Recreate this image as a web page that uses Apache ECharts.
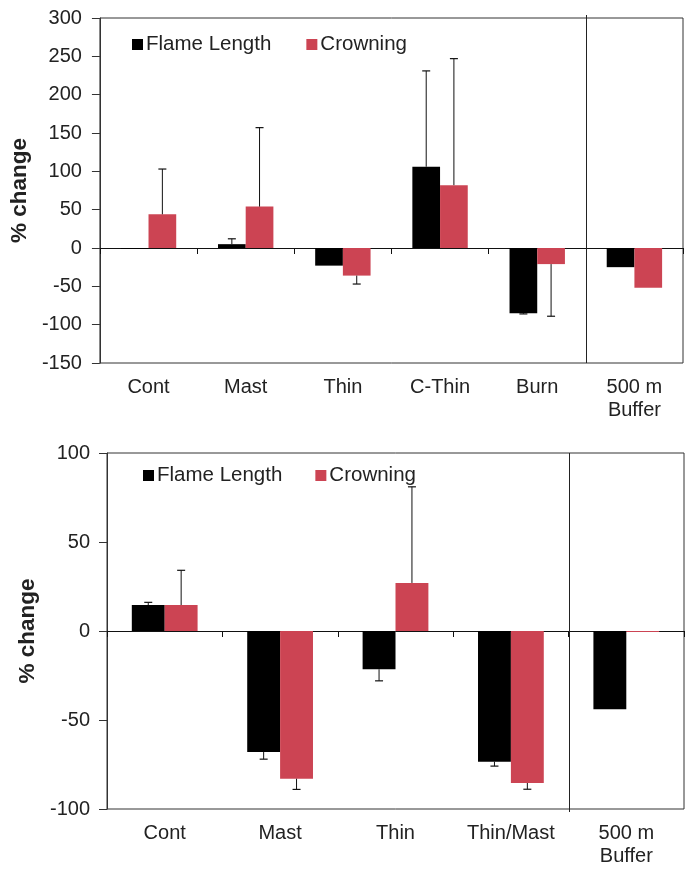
<!DOCTYPE html>
<html>
<head>
<meta charset="utf-8">
<script src="https://cdn.jsdelivr.net/npm/echarts@6/dist/echarts.min.js"></script>
<style>html,body{margin:0;padding:0;background:#fff;}#c{width:691px;height:877px;}</style>
</head>
<body>
<div id="c"></div>
<script>
// ---- Data: top panel ----
var cats1 = ['Cont', 'Mast', 'Thin', 'C-Thin', 'Burn', '500 m\nBuffer'];
var flame1 = [-1, 5, -23, 106, -85, -25];
var flameErr1 = [null, 7, null, 125, 1, null];
var crown1 = [44, 54, -36, 82, -21, -52];
var crownErr1 = [59, 103, 11, 165, 68, null];
var yTicks1 = { min: -150, max: 300, interval: 50 };

// ---- Data: bottom panel ----
var cats2 = ['Cont', 'Mast', 'Thin', 'Thin/Mast', '500 m\nBuffer'];
var flame2 = [14.6, -68, -21.5, -73.4, -44];
var flameErr2 = [1.5, 4, 6.5, 2.5, null];
var crown2 = [14.6, -83, 27, -85.4, -0.5];
var crownErr2 = [19.5, 6, 54, 3.5, null];
var yTicks2 = { min: -100, max: 100, interval: 50 };

var FONT = 'Liberation Sans';
var TXT = '#222';
var RED = '#cc4453';
var GAP = 0.43;

function errData(vals, errs) {
  var out = [];
  for (var i = 0; i < vals.length; i++) {
    if (errs[i] != null) out.push([i, vals[i], errs[i]]);
  }
  return out;
}

function errSeries(name, gridIdx, vals, errs, side) {
  return {
    type: 'custom', name: name + ' err', xAxisIndex: gridIdx * 2, yAxisIndex: gridIdx,
    silent: true, z: 5,
    data: errData(vals, errs),
    renderItem: function (params, api) {
      var i = api.value(0), v = api.value(1), e = api.value(2);
      var cw = api.size([1, 0])[0];
      var bw = cw * (1 - GAP) / 2;
      var c = api.coord([i, v]);
      var x = c[0] + side * bw / 2;
      var end = api.coord([i, v >= 0 ? v + e : v - e]);
      return {
        type: 'group', children: [
          { type: 'line', shape: { x1: x, y1: c[1], x2: x, y2: end[1] }, style: { stroke: '#111', lineWidth: 1 } },
          { type: 'line', shape: { x1: x - 4, y1: end[1], x2: x + 4, y2: end[1] }, style: { stroke: '#111', lineWidth: 1.2 } }
        ]
      };
    }
  };
}

function sepSeries(gridIdx, catIdx, yTop, yBot, extTop, extBot) {
  return {
    type: 'custom', xAxisIndex: gridIdx * 2, yAxisIndex: gridIdx, silent: true, z: 6,
    data: [[catIdx, yTop, yBot]],
    renderItem: function (params, api) {
      var cw = api.size([1, 0])[0];
      var t = api.coord([api.value(0), api.value(1)]);
      var b = api.coord([api.value(0), api.value(2)]);
      var x = Math.round(t[0] + cw / 2) + 0.5;
      return { type: 'line', shape: { x1: x, y1: t[1] - extTop, x2: x, y2: b[1] + extBot }, style: { stroke: '#222', lineWidth: 1 } };
    }
  };
}

function xAxesFor(gridIdx, cats) {
  return [
    { type: 'category', gridIndex: gridIdx, data: cats, position: 'bottom',
      axisLine: { onZero: true, lineStyle: { color: '#111', width: 1 } },
      axisTick: { show: true, length: 6, lineStyle: { color: '#111' } },
      axisLabel: { show: false }, splitLine: { show: false } },
    { type: 'category', gridIndex: gridIdx, data: cats, position: 'bottom',
      axisLine: { show: false, onZero: false }, axisTick: { show: false },
      axisLabel: { show: true, color: TXT, fontFamily: FONT, fontSize: 20, margin: 13, lineHeight: 23 },
      splitLine: { show: false } }
  ];
}

function yAxisFor(gridIdx, t, gap, margin) {
  return {
    type: 'value', gridIndex: gridIdx, min: t.min, max: t.max, interval: t.interval,
    name: '% change', nameLocation: 'middle', nameGap: gap,
    nameTextStyle: { color: TXT, fontFamily: FONT, fontSize: 22.5, fontWeight: 'bold' },
    axisLine: { show: true, lineStyle: { color: '#333' } },
    axisTick: { show: true, length: 8, lineStyle: { color: '#333' } },
    axisLabel: { color: TXT, fontFamily: FONT, fontSize: 20, margin: margin },
    splitLine: { show: false }
  };
}

function barSeries(name, gridIdx, vals, color) {
  return {
    type: 'bar', name: name, xAxisIndex: gridIdx * 2, yAxisIndex: gridIdx,
    data: vals, barGap: '0%', barCategoryGap: (GAP * 100) + '%',
    itemStyle: { color: color }, silent: true, z: 3
  };
}

var legendText = { color: TXT, fontFamily: FONT, fontSize: 20.5, padding: [0, 0, 0, -2] };
var chart = echarts.init(document.getElementById('c'), null, { renderer: 'canvas' });
chart.setOption({
  backgroundColor: '#fff',
  animation: false,
  grid: [
    { left: 99, top: 18, width: 584, height: 345, show: true, borderColor: '#333', borderWidth: 1, backgroundColor: 'transparent' },
    { left: 107, top: 453, width: 577, height: 356, show: true, borderColor: '#333', borderWidth: 1, backgroundColor: 'transparent' }
  ],
  legend: [
    { left: 127, top: 29, itemWidth: 11, itemHeight: 11, itemGap: 35, icon: 'rect',
      data: ['Flame Length', 'Crowning'], textStyle: legendText },
    { left: 138, top: 460, itemWidth: 11, itemHeight: 11, itemGap: 33, icon: 'rect',
      data: ['Flame Length', 'Crowning'], textStyle: legendText }
  ],
  xAxis: xAxesFor(0, cats1).concat(xAxesFor(1, cats2)),
  yAxis: [yAxisFor(0, yTicks1, 62, 18), yAxisFor(1, yTicks2, 60, 17)],
  series: [
    barSeries('Flame Length', 0, flame1, '#000'),
    barSeries('Crowning', 0, crown1, RED),
    errSeries('Flame Length', 0, flame1, flameErr1, -1),
    errSeries('Crowning', 0, crown1, crownErr1, 1),
    sepSeries(0, 4, yTicks1.max, yTicks1.min, 3, 0),
    barSeries('Flame Length', 1, flame2, '#000'),
    barSeries('Crowning', 1, crown2, RED),
    errSeries('Flame Length', 1, flame2, flameErr2, -1),
    errSeries('Crowning', 1, crown2, crownErr2, 1),
    sepSeries(1, 3, yTicks2.max, yTicks2.min, 0, 3)
  ]
});
</script>
</body>
</html>
